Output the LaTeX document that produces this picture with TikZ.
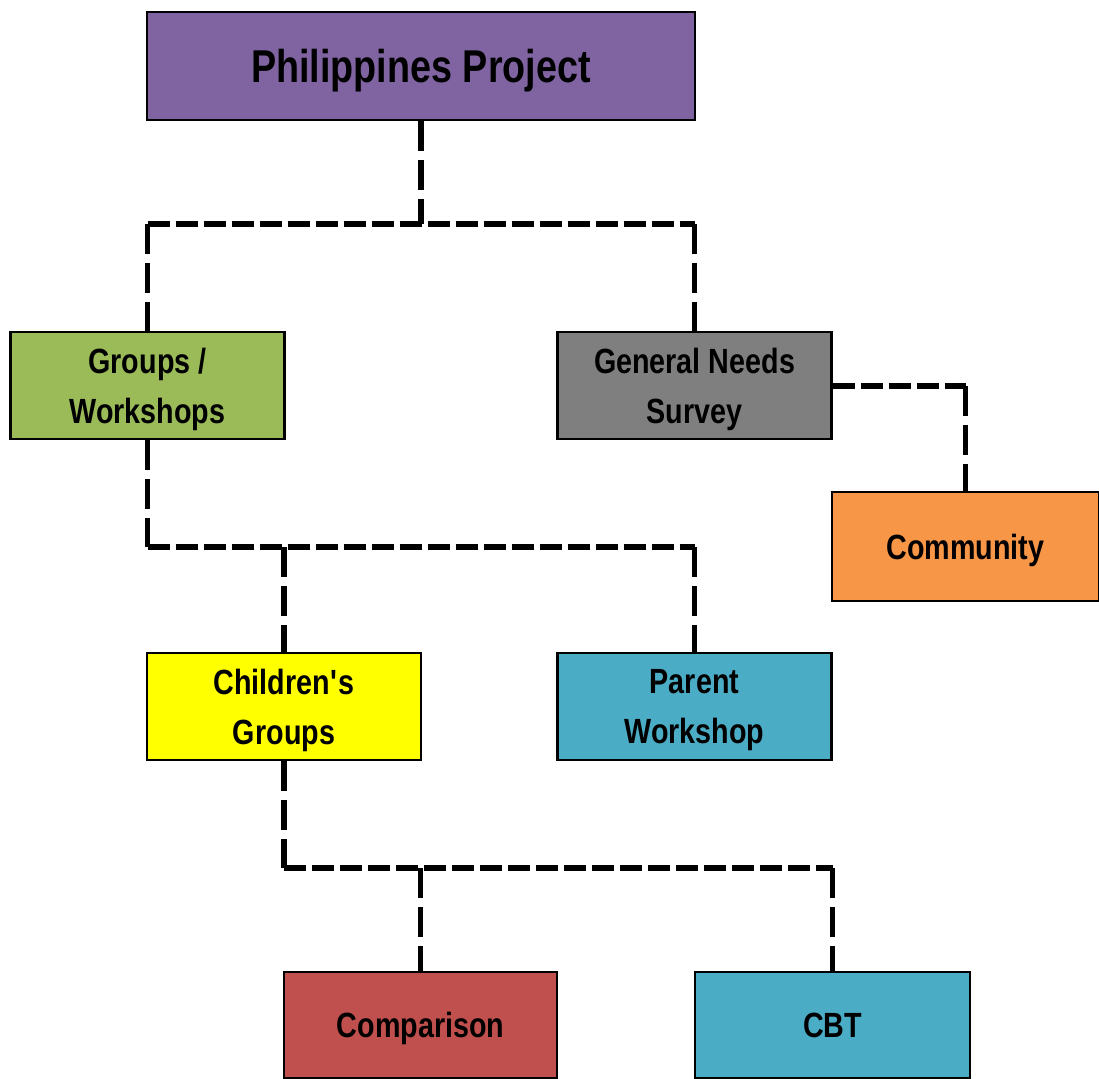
\documentclass[tikz,border=0pt]{standalone}
\usepackage{fontspec}
\setmainfont[FakeStretch=0.82]{Liberation Sans}
\definecolor{cpurple}{HTML}{8064A2}
\definecolor{cgreen}{HTML}{9BBB59}
\definecolor{cgrey}{HTML}{7F7F7F}
\definecolor{corange}{HTML}{F79646}
\definecolor{cyellow}{HTML}{FFFF00}
\definecolor{cteal}{HTML}{4BACC6}
\definecolor{cred}{HTML}{C0504D}
\begin{document}
\begin{tikzpicture}[x=1pt,y=-1pt,
  box/.style={draw=black,line width=2.5pt,rectangle,inner sep=0pt,align=center,
    minimum width=274pt,minimum height=107pt,text depth=0pt,
    font=\fontsize{35}{50}\selectfont\bfseries},
  hconn/.style={draw=black,line width=6pt,dash pattern=on 22pt off 6pt},
  vconn/.style={draw=black,line width=5.5pt,dash pattern=on 30pt off 9pt}]
\useasboundingbox (0,0) rectangle (1099,1078);
\node[box,fill=cpurple,minimum width=548pt,minimum height=108pt,font=\fontsize{46}{50}\selectfont\bfseries] (pp) at (421,66) {Philippines Project};
\node[box,fill=cgreen] (gw) at (147.5,385.5) {Groups /\\Workshops};
\node[box,fill=cgrey] (gns) at (694.5,385.5) {General Needs\\Survey};
\node[box,fill=corange,minimum width=267pt,minimum height=109pt] (com) at (965.5,546.5) {Community};
\node[box,fill=cyellow] (cg) at (284,706.5) {Children\textquotesingle s\\Groups};
\node[box,fill=cteal] (pw) at (694.5,706.5) {Parent\\Workshop};
\node[box,fill=cred,minimum width=273pt,minimum height=106pt] (cmp) at (420.5,1025) {Comparison};
\node[box,fill=cteal,minimum width=275pt,minimum height=106pt] (cbt) at (832.5,1025) {CBT};
\coordinate (j1) at (421,224);
\coordinate (j2) at (147,547);
\coordinate (j3) at (284,868);
% level 1
\draw[vconn] (pp.south) -- (pp.south |- j1);
\draw[hconn] (gw.north |- j1) -- (gns.north |- j1);
\draw[vconn] (gw.north |- j1) -- (gw.north);
\draw[vconn] (gns.north |- j1) -- (gns.north);
% groups
\draw[vconn] (gw.south) -- (gw.south |- j2);
\draw[hconn] (gw.south |- j2) -- (pw.north |- j2);
\draw[vconn] (cg.north |- j2) -- (cg.north);
\draw[vconn] (pw.north |- j2) -- (pw.north);
% survey
\draw[hconn] (gns.east) -- (gns.east -| com.north);
\draw[vconn] (gns.east -| com.north) -- (com.north);
% children
\draw[vconn] (cg.south) -- (cg.south |- j3);
\draw[hconn] (cg.south |- j3) -- (cbt.north |- j3);
\draw[vconn] (cmp.north |- j3) -- (cmp.north);
\draw[vconn] (cbt.north |- j3) -- (cbt.north);
\end{tikzpicture}
\end{document}
